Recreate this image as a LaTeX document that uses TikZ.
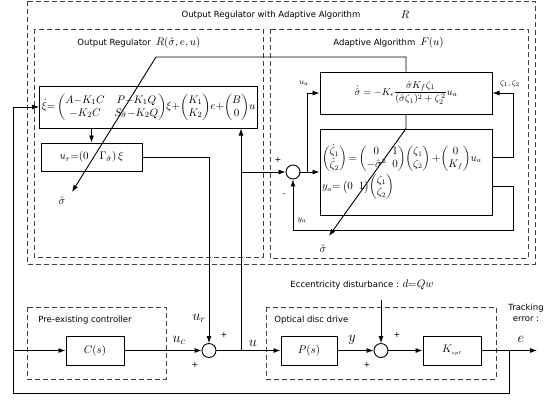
\documentclass[tikz,border=0pt]{standalone}
\usepackage{amsmath}
\usepackage{amssymb}
\usepackage{fontspec}
\newfontfamily\labelfont{DejaVu Sans}
\usepackage{tikz}
\usetikzlibrary{arrows.meta}
\usetikzlibrary{positioning}

\newcommand{\mathlbl}[1]{{\fontsize{11}{13}\selectfont$#1$}}

\begin{document}
\begin{tikzpicture}[x=1pt,y=-1pt,line width=0.9pt,
  >={Latex[length=7pt,width=5pt]},
  blk/.style={draw,line width=1pt,inner sep=2pt,font=\fontsize{11}{13}\selectfont},
  sumnode/.style={draw,circle,minimum size=14pt,inner sep=0pt},
  dbox/.style={draw=black!75,dashed,dash pattern=on 5pt off 3pt,line width=0.8pt},
  lbl/.style={font=\labelfont\fontsize{8.5}{10.5}\selectfont,inner sep=0pt},
  sgn/.style={font=\labelfont\fontsize{8}{9}\selectfont,inner sep=0pt},
  sig/.style={font=\Large,inner sep=0pt},
  small/.style={font=\fontsize{8.5}{10}\selectfont,inner sep=0pt}]
  \useasboundingbox (0,0) rectangle (556,400);

  % dashed frames
  \draw[dbox] (27,1) rectangle (535,264);
  \draw[dbox] (34,29) rectangle (263,257);
  \draw[dbox] (270,29) rectangle (528,258);
  \draw[dbox] (27,307) rectangle (166,379);
  \draw[dbox] (266,307) rectangle (496,379);

  \node[lbl] (ttl) at (271,15) {Output Regulator with Adaptive Algorithm};
  \node[inner sep=0pt] (ttlR) at (405,15) {\mathlbl{R}};
  \node[lbl,anchor=west] (orl) at (77,43) {Output Regulator\hspace{5pt}\mathlbl{R(\hat{\sigma},e,u)}};
  \node[lbl,anchor=west] (aal) at (333,43) {Adaptive Algorithm\hspace{5pt}\mathlbl{F(u)}};
  \node[lbl,anchor=west] (pcl) at (38,320) {Pre-existing controller};
  \node[lbl,anchor=west] (odl) at (274,320) {Optical disc drive};
  \node[lbl] (dist) at (362,285) {Eccentricity disturbance : \mathlbl{d{=}Qw}};
  \node[lbl,align=center] (trk) at (526,313) {Tracking\\error :};

  % blocks
  \node[blk,minimum width=215pt,minimum height=42pt] (xidot) at (148.5,107)
    {$\dot{\xi}{=}\begin{pmatrix}A{-}K_1C & P{-}K_1Q\\ -K_2C & S_{\hat{\sigma}}{-}K_2Q\end{pmatrix}\!\xi{+}\!\begin{pmatrix}K_1\\ K_2\end{pmatrix}\!e{+}\!\begin{pmatrix}B\\ 0\end{pmatrix}\!u$};
  \node[blk,minimum width=101pt,minimum height=28pt] (ur) at (91.5,157)
    {$u_r{=}(0\quad\Gamma_{\hat{\sigma}})\,\xi$};
  \node[blk,minimum width=172pt,minimum height=42pt,font=\normalsize] (sigdot) at (406,93)
    {$\dot{\hat{\sigma}}=-K_{\epsilon}\dfrac{\hat{\sigma}K_f\zeta_1}{(\hat{\sigma}\zeta_1)^2+\zeta_2^{\,2}}u_a$};
  \node[blk,text width=168pt,minimum height=86pt,align=left,font=\fontsize{10.5}{12.5}\selectfont\setlength{\arraycolsep}{3pt}] (zeta) at (406,172)
    {$\begin{pmatrix}\dot{\zeta}_1\\ \dot{\zeta}_2\end{pmatrix}{=}\begin{pmatrix}0 & 1\\ -\hat{\sigma}^2 & 0\end{pmatrix}\!\begin{pmatrix}\zeta_1\\ \zeta_2\end{pmatrix}{+}\!\begin{pmatrix}0\\ K_f\end{pmatrix}\!u_a$\\[1pt]
     $y_a{=}\begin{pmatrix}0 & 1\end{pmatrix}\!\begin{pmatrix}\zeta_1\\ \zeta_2\end{pmatrix}$};
  \node[blk,minimum width=58pt,minimum height=29pt] (Cs) at (95,350.5) {$C(s)$};
  \node[blk,minimum width=56pt,minimum height=29pt] (Ps) at (309,350.5) {$P(s)$};
  \node[blk,minimum width=58pt,minimum height=29pt] (Kopt) at (452,350.5) {$K_{\scriptscriptstyle opt}$};
  \node[sumnode] (sum1) at (209,350.5) {};
  \node[sumnode] (sum2) at (381,350.5) {};
  \node[sumnode] (suma) at (293,172) {};

  % corner points
  \coordinate (fb) at (509,350.5);
  \coordinate (fbl) at (13,393);
  \coordinate (ub) at (241,350.5);
  \coordinate (eout) at (537,350.5);
  \coordinate (ua) at (307,172);
  \coordinate (zf) at (513,157);
  \coordinate (ya1) at (513,186);
  \coordinate (ya2) at (513,230);
  \coordinate (sb2) at (156,57);
  \coordinate (sb3) at (72,192);
  \coordinate (sb4) at (329,236);

  % signals
  \draw[->] (fbl |- Cs.west) -- (Cs.west);
  \draw[->] (Cs.east) -- (sum1.west);
  \draw[->] (ur.east) -| (sum1.north);
  \draw[->] (sum1.east) -- (Ps.west);
  \draw[->] (ub) -- (ub |- xidot.south);
  \draw[->] (ub |- suma.west) -- (suma.west);
  \draw[->] (Ps.east) -- (sum2.west);
  \draw[->] (sum2 |- dist.south) ++(0,10) -- (sum2.north);
  \draw[->] (sum2.east) -- (Kopt.west);
  \draw[->] (Kopt.east) -- (eout);
  \draw[->] (fb) |- (fbl) |- (xidot.west);
  \draw[->] (ur.north |- xidot.south) -- (ur.north);
  \draw[->] (suma.east) -- (zeta.west |- suma.east);
  \draw[->] (ua) |- (sigdot.west);
  \draw[->] (zeta.east |- zf) -- (zf) |- (sigdot.east);
  \draw[->] (zeta.east |- ya1) -- (ya1) -- (ya2) -| (suma.south);
  \draw[->] (sigdot.north) |- (sb2) -- (sb3);
  \draw[->] (sigdot.south) -- (zeta.north) -- (sb4);

  % signal names and signs
  \node[sig] (ucl) at (179,340) {$u_c$};
  \node[sig] (url) at (199,318) {$u_r$};
  \node[sig] (ul) at (253,343) {$u$};
  \node[sig] (yl) at (352,340) {$y$};
  \node[sig] (el) at (521,339) {$e$};
  \node[inner sep=0pt] (sh1) at (62,201) {\mathlbl{\hat{\sigma}}};
  \node[inner sep=0pt] (sh2) at (323,249) {\mathlbl{\hat{\sigma}}};
  \node[small] (ual) at (304,83) {$u_a$};
  \node[small] (yal) at (302,221) {$y_a$};
  \node[small] (zl) at (510,83) {$\zeta_1,\zeta_2$};
  \node[sgn] (p1) at (224,335) {+};
  \node[sgn] (p2) at (195,365) {+};
  \node[sgn] (p3) at (397,335) {+};
  \node[sgn] (p4) at (367,365) {+};
  \node[sgn] (p5) at (278,160) {+};
  \node[sgn] (m1) at (284,195) {-};
\end{tikzpicture}
\end{document}
